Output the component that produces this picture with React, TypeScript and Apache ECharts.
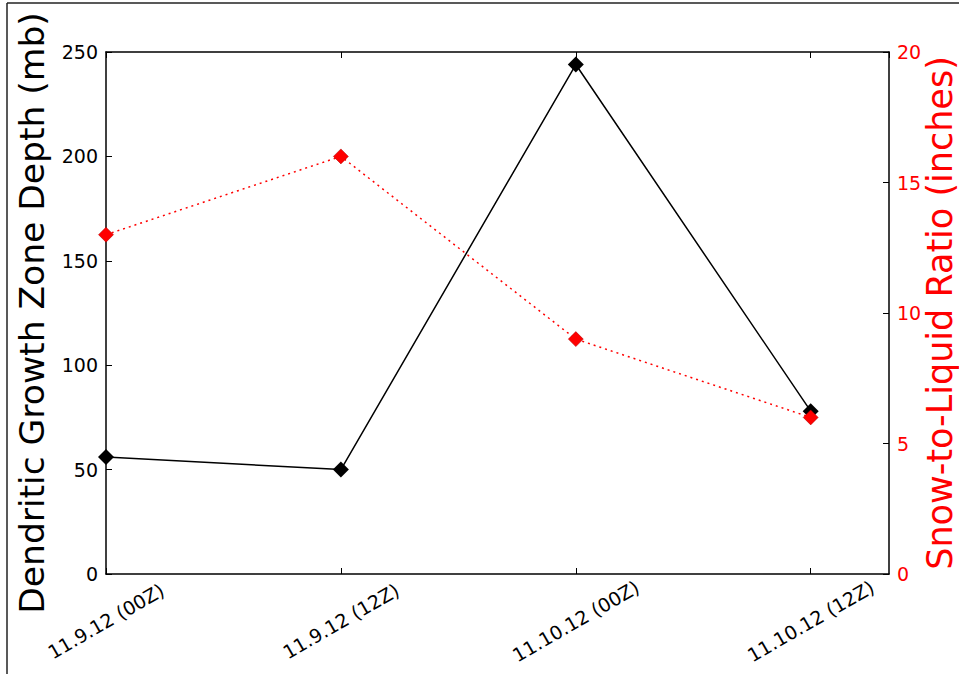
import React, { useEffect, useRef } from "react";
import * as echarts from "echarts";

const categories = ["11.9.12 (00Z)", "11.9.12 (12Z)", "11.10.12 (00Z)", "11.10.12 (12Z)"];
const depthValues = [56, 50, 244, 78];
const ratioValues = [13, 16, 9, 6];
const leftTicks = [0, 50, 100, 150, 200, 250];
const rightTicks = [0, 5, 10, 15, 20];

const FONT = "DejaVu Sans";

export default function App() {
  const ref = useRef<HTMLDivElement>(null);
  useEffect(() => {
    document.body.style.margin = "0";
    if (!ref.current) return;
    const chart = echarts.init(ref.current, undefined, { renderer: "svg" });
    const axisLine = { show: true, onZero: false, lineStyle: { color: "#000", width: 1.5 } };
    const tick = { show: true, inside: true, length: 6, lineStyle: { color: "#000", width: 1 } };
    chart.setOption({
      animation: false,
      backgroundColor: "#fff",
      grid: { left: 106, right: 70, top: 52, bottom: 100, containLabel: false, outerBoundsMode: "none" },
      graphic: [
        { type: "line", shape: { x1: 7, y1: 3, x2: 959, y2: 3 }, style: { stroke: "#222", lineWidth: 1.5 } },
        { type: "line", shape: { x1: 7, y1: 3, x2: 7, y2: 674 }, style: { stroke: "#222", lineWidth: 1.5 } },
      ],
      xAxis: [
        {
          type: "value",
          min: 0,
          max: 10 / 3,
          interval: 1,
          position: "bottom",
          axisLine,
          splitLine: { show: false },
          axisTick: tick,
          axisLabel: {
            showMaxLabel: false,
            rotate: 30,
            align: "center",
            verticalAlign: "middle",
            margin: 47,
            fontFamily: FONT,
            fontSize: 19,
            color: "#000",
            formatter: (v: number) => (Number.isInteger(v) && categories[v] !== undefined ? categories[v] : ""),
          },
        },
        {
          type: "value",
          min: 0,
          max: 10 / 3,
          interval: 1,
          position: "top",
          axisLine,
          splitLine: { show: false },
          axisTick: tick,
          axisLabel: { show: false },
        },
      ],
      yAxis: [
        {
          type: "value",
          min: leftTicks[0],
          max: leftTicks[leftTicks.length - 1],
          interval: 50,
          position: "left",
          name: "Dendritic Growth Zone Depth (mb)",
          nameLocation: "middle",
          nameGap: 57,
          nameMoveOverlap: false,
          nameTextStyle: { fontFamily: FONT, fontSize: 34.5, color: "#000" },
          axisLine,
          splitLine: { show: false },
          axisTick: tick,
          axisLabel: { fontFamily: FONT, fontSize: 19, color: "#000", margin: 8 },
        },
        {
          type: "value",
          min: rightTicks[0],
          max: rightTicks[rightTicks.length - 1],
          interval: 5,
          position: "right",
          name: "Snow-to-Liquid Ratio (inches)",
          nameLocation: "middle",
          nameGap: 33,
          nameMoveOverlap: false,
          nameTextStyle: { fontFamily: FONT, fontSize: 35, color: "#ff0000" },
          axisLine,
          splitLine: { show: false },
          axisTick: tick,
          axisLabel: { fontFamily: FONT, fontSize: 19, color: "#ff0000", margin: 8 },
        },
      ],
      series: [
        {
          type: "line",
          xAxisIndex: 0,
          yAxisIndex: 0,
          data: depthValues.map((v, i) => [i, v]),
          symbol: "diamond",
          symbolSize: 16,
          itemStyle: { color: "#000" },
          lineStyle: { color: "#000", width: 1.5 },
          z: 3,
        },
        {
          type: "line",
          xAxisIndex: 0,
          yAxisIndex: 1,
          data: ratioValues.map((v, i) => [i, v]),
          symbol: "diamond",
          symbolSize: 15,
          itemStyle: { color: "#ff0000", borderColor: "#aa0000", borderWidth: 0.5 },
          lineStyle: { color: "#ff0000", width: 1.5, type: [2, 4] },
          z: 4,
        },
      ],
    });
    return () => chart.dispose();
  }, []);
  return <div ref={ref} style={{ width: 959, height: 674 }} />;
}
